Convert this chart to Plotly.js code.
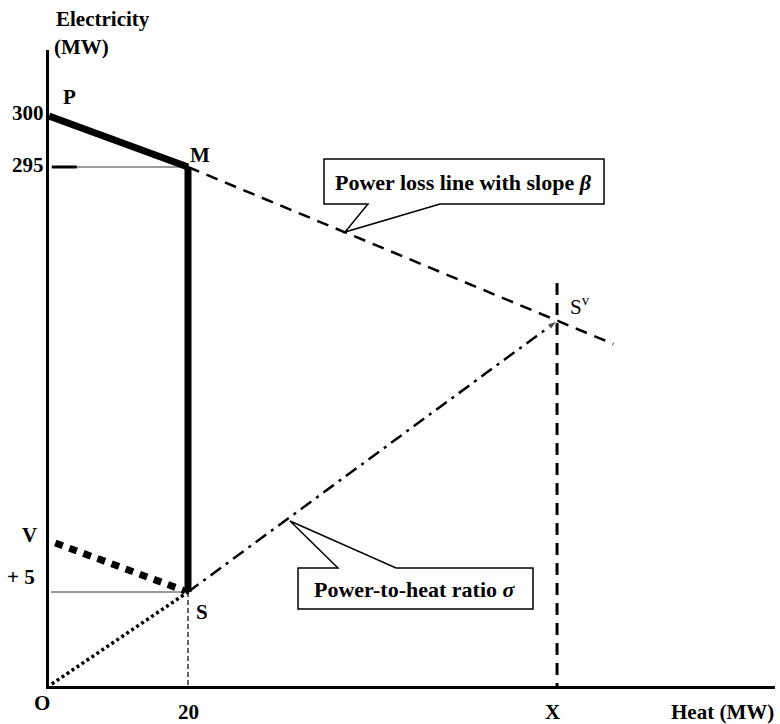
<!DOCTYPE html>
<html>
<head>
<meta charset="utf-8">
<script src="https://cdn.plot.ly/plotly-3.0.1.min.js"></script>
<style>html,body{margin:0;padding:0;background:#fff;}#chart{width:780px;height:724px;}</style>
</head>
<body>
<div id="chart"></div>
<script>
// Schematic coordinates: heat (MW, schematic) and electricity (schematic units)
const pmHeat = [0, 20],        pmElec = [570, 519];      // P -> M (thick solid)
const msHeat = [20, 20],       msElec = [519, 94];       // M -> S (thick solid)
const vsHeat = [0.9, 19.6],    vsElec = [143, 95];       // V -> S (thick dotted)
const osHeat = [0.4, 20],      osElec = [2, 94];         // O -> S (dotted)
const ssvHeat = [20, 73.1],    ssvElec = [94, 365];      // S -> S^v (dash-dot)
const lossHeat = [20, 81.2],   lossElec = [519, 342];    // power loss line (dashed)
const xDropHeat = [73.1, 73.1], xDropElec = [403, 0];    // vertical at X
const sDropHeat = [20, 20],    sDropElec = [94, 0];      // vertical at 20
const g295Heat = [3.7, 20],    g295Elec = [519, 519];    // thin guide at 295
const t295Heat = [0.4, 4.0],   t295Elec = [519, 519];    // short tick at 295
const g5Heat = [0.3, 20],      g5Elec = [94, 94];        // thin guide at +5

const yTickLabels = ['300', '295', '+ 5'];
const xTickLabels = ['O', '20', 'X'];
const pointLabels = ['P', 'M', 'V', 'S'];

const FONT = 'Liberation Serif, Times New Roman, serif';
const FS = 21;

function seg(x, y, width, dash) {
  return {x: x, y: y, type: 'scatter', mode: 'lines', hoverinfo: 'skip',
          line: {color: '#000', width: width, dash: dash || 'solid'}, showlegend: false};
}

const ssvTrace = seg(ssvHeat, ssvElec, 2.5, '13px,6px,3px,6px');
ssvTrace.mode = 'lines+markers';
ssvTrace.marker = {symbol: 'arrow', angleref: 'previous', size: [0, 10], color: '#000'};

const traces = [
  seg(g295Heat, g295Elec, 0.8),
  seg(g5Heat, g5Elec, 0.8),
  seg(t295Heat, t295Elec, 3),
  seg(sDropHeat, sDropElec, 1.2, '5px,3px'),
  seg(xDropHeat, xDropElec, 3, '12px,8px'),
  seg(lossHeat, lossElec, 2.5, '12px,8px'),
  ssvTrace,
  seg(osHeat, osElec, 3.5, '3px,3px'),
  seg(vsHeat, vsElec, 7, '8px,7px'),
  seg(pmHeat, pmElec, 7),
  seg(msHeat, msElec, 7)
];

function ann(text, x, y, xanchor, opts) {
  return Object.assign({text: text, x: x, y: y, xref: 'x', yref: 'y', showarrow: false,
    xanchor: xanchor || 'center', yanchor: 'middle',
    font: {family: FONT, size: FS, color: '#000'}}, opts || {});
}
function pann(text, x, y, xanchor) {
  return ann(text, x, y, xanchor, {xref: 'paper', yref: 'paper'});
}

const annotations = [
  pann('<b>Electricity</b>', 0.0069, 1.0487, 'left'),
  pann('<b>(MW)</b>', 0.0041, 1.0047, 'left'),
  pann('<b>' + yTickLabels[0] + '</b>', -0.0041, 0.901, 'right'),
  pann('<b>' + yTickLabels[1] + '</b>', -0.0041, 0.819, 'right'),
  pann('<b>' + yTickLabels[2] + '</b>', -0.0165, 0.1714, 'right'),
  pann('<b>' + xTickLabels[0] + '</b>', -0.0096, -0.0267),
  pann('<b>' + xTickLabels[1] + '</b>', 0.1915, -0.0409),
  pann('<b>' + xTickLabels[2] + '</b>', 0.6942, -0.0409),
  pann('<b>Heat (MW)</b>', 1.0014, -0.0409, 'right'),
  ann('<b>' + pointLabels[0] + '</b>', 3.0, 589),
  ann('<b>' + pointLabels[1] + '</b>', 21.7, 531),
  pann('<b>' + pointLabels[2] + '</b>', -0.0262, 0.2374),
  ann('<b>' + pointLabels[3] + '</b>', 22.0, 74),
  ann('S<sup>v</sup>', 76.4, 381),
  ann('<b>Power loss line with slope <i>β</i></b>', 59.7, 504, 'center', {font: {family: FONT, size: 22, color: '#000'}}),
  ann('<b>Power-to-heat ratio <i>σ</i></b>', 52.7, 97, 'center', {font: {family: FONT, size: 22, color: '#000'}})
];

const shapes = [
  {type: 'path', xref: 'x', yref: 'y', layer: 'above',
   path: 'M 39.57,527 L 79.86,527 L 79.86,482 L 56.26,482 L 42.59,454 L 45.90,482 L 39.57,482 Z',
   fillcolor: '#fff', line: {color: '#000', width: 1.5}},
  {type: 'path', xref: 'x', yref: 'y', layer: 'above',
   path: 'M 35.83,118 L 41.58,118 L 34.68,165 L 49.93,118 L 69.64,118 L 69.64,77 L 35.83,77 Z',
   fillcolor: '#fff', line: {color: '#000', width: 1.5}}
];

const layout = {
  width: 780, height: 724,
  margin: {l: 49, r: 5, t: 50, b: 38},
  paper_bgcolor: '#fff', plot_bgcolor: '#fff',
  xaxis: {range: [0, 104.46], showline: true, linecolor: '#000', linewidth: 3,
          showgrid: false, zeroline: false, showticklabels: false, ticks: '', fixedrange: true},
  yaxis: {range: [0, 636], showline: true, linecolor: '#000', linewidth: 3,
          showgrid: false, zeroline: false, showticklabels: false, ticks: '', fixedrange: true},
  annotations: annotations,
  shapes: shapes,
  showlegend: false
};

Plotly.newPlot('chart', traces, layout, {staticPlot: true, displayModeBar: false});
</script>
</body>
</html>
